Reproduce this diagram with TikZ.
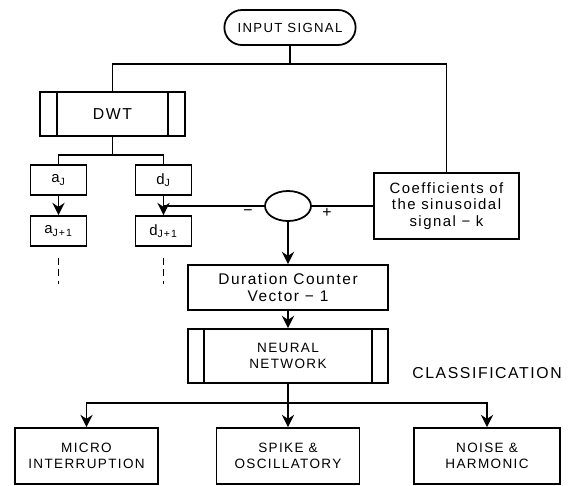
\documentclass[tikz,border=0pt]{standalone}
\usepackage{fontspec}
\setmainfont[LetterSpace=10]{Liberation Sans}
\usetikzlibrary{arrows.meta, shapes.geometric, shapes.misc}

\begin{document}
\begin{tikzpicture}[
        x=0.02cm, y=-0.02cm, line width=1pt,
        box/.style={rectangle, draw, text centered, align=center, inner sep=1pt,
            font=\fontsize{7.7}{9}\selectfont},
        textbox/.style={box, font=\fontsize{8.5}{9.5}\selectfont},
        pill/.style={rounded rectangle, draw, minimum width=2.86cm, minimum height=0.7cm,
            font=\fontsize{7.5}{9}\selectfont},
        coefbox/.style={box, minimum width=1.12cm, minimum height=0.6cm, font=\fontsize{8.5}{10}\selectfont},
        arrow/.style={-{Stealth[length=7pt, width=7pt]}},
        dashline/.style={dash pattern=on 4pt off 2.5pt},
        sign/.style={font=\fontsize{9}{10}\selectfont}
    ]
    \useasboundingbox (0,0) rectangle (575,485);

    % Input and wavelet transform
    \node[pill] (input) at (290, 27.5) {INPUT SIGNAL};
    \node[box, minimum width=2.9cm, minimum height=0.88cm, font=\fontsize{9}{10}\selectfont] (dwt) at (112.5, 114) {DWT};
    \draw ([xshift=0.36cm]dwt.north west) -- ([xshift=0.36cm]dwt.south west);
    \draw ([xshift=-0.36cm]dwt.north east) -- ([xshift=-0.36cm]dwt.south east);
    \node[textbox, minimum width=2.9cm, minimum height=1.32cm] (coef) at (446.5, 206) {Coefficients of\\the sinusoidal\\signal − k};

    \draw (input.south) -- ++(0, 18) -| (dwt.north);
    \draw (input.south) -- ++(0, 18) -| (coef.north);

    % Coefficients
    \node[coefbox] (aj) at (58.5, 180) {a\textsubscript{J}};
    \node[coefbox] (dj) at (163.5, 180) {d\textsubscript{J}};
    \node[coefbox] (aj1) at (58.5, 231) {a\textsubscript{J+1}};
    \node[coefbox] (dj1) at (163.5, 231) {d\textsubscript{J+1}};

    \draw (dwt.south) -- ++(0, 18) -| (aj.north);
    \draw (dwt.south) -- ++(0, 18) -| (dj.north);
    \draw[arrow] (aj) -- (aj1);
    \draw[arrow] (dj) -- (dj1);
    \draw[dashline] ([yshift=-0.22cm]aj1.south) -- ++(0, 26);
    \draw[dashline] ([yshift=-0.22cm]dj1.south) -- ++(0, 26);

    % Comparison
    \node[ellipse, draw, minimum width=0.92cm, minimum height=0.6cm] (sum) at (288, 206) {};
    \node[sign] (minus) at (248, 213) {−};
    \node[sign] (plus) at (327, 213) {+};
    \draw (dj.south |- sum.west) -- (sum.west);
    \draw (sum.east) -- (coef.west);

    % Counter and network
    \node[textbox, minimum width=4cm, minimum height=0.9cm, font=\fontsize{8.8}{9.5}\selectfont] (counter) at (288, 287.5) {Duration Counter\\Vector − 1};
    \node[box, minimum width=4cm, minimum height=1.08cm] (nn) at (288, 356) {NEURAL\\NETWORK};
    \draw ([xshift=0.34cm]nn.north west) -- ([xshift=0.34cm]nn.south west);
    \draw ([xshift=-0.34cm]nn.north east) -- ([xshift=-0.34cm]nn.south east);
    \node[font=\fontsize{9}{10}\selectfont] (classlabel) at (487, 373) {CLASSIFICATION};

    \draw[arrow] (sum) -- (counter);
    \draw[arrow] (counter) -- (nn);

    % Classes
    \node[box, minimum width=2.86cm, minimum height=1.12cm] (micro) at (86.5, 456) {MICRO\\INTERRUPTION};
    \node[box, minimum width=2.86cm, minimum height=1.12cm] (spike) at (288, 456) {SPIKE \&\\OSCILLATORY};
    \node[box, minimum width=2.92cm, minimum height=1.12cm] (noise) at (487, 456) {NOISE \&\\HARMONIC};

    \draw[arrow] (nn.south) -- ++(0, 19) -| (micro.north);
    \draw[arrow] (nn) -- (spike);
    \draw[arrow] (nn.south) -- ++(0, 19) -| (noise.north);

    \end{tikzpicture}
\end{document}
